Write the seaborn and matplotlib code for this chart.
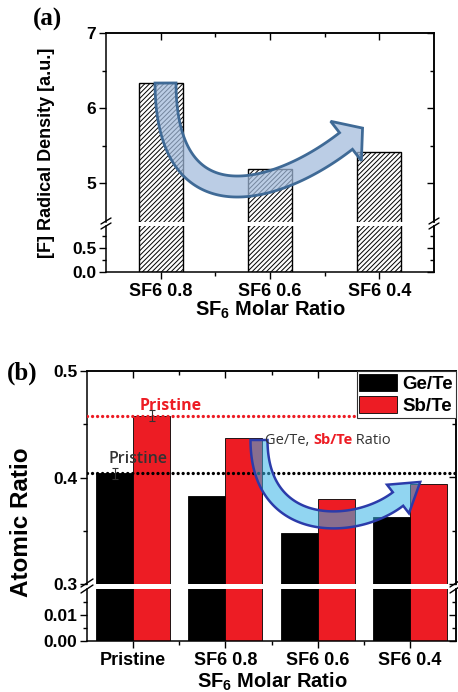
import numpy as np
import pandas as pd
import matplotlib
matplotlib.use("Agg")
import matplotlib.pyplot as plt
import matplotlib.transforms as mtransforms
from matplotlib.path import Path
from matplotlib.patches import PathPatch, Patch
from matplotlib.lines import Line2D
from matplotlib.ticker import FormatStrFormatter
import seaborn as sns

# ---------------- data ----------------
cats_a = ["SF6 0.8", "SF6 0.6", "SF6 0.4"]
density_a = [6.33, 5.19, 5.41]

cats_b = ["Pristine", "SF6 0.8", "SF6 0.6", "SF6 0.4"]
series_b = ["Ge/Te", "Sb/Te"]
ge_te = [0.404, 0.383, 0.348, 0.363]
sb_te = [0.458, 0.437, 0.380, 0.394]
pristine_err = [0.005, 0.005]  # Ge/Te, Sb/Te

yt_a_up, yt_a_up_minor = [5, 6, 7], [5.5, 6.5]
yt_a_lo, yt_a_lo_minor = [0.0, 0.5], [0.25, 0.75]
yt_b_up, yt_b_up_minor = [0.3, 0.4, 0.5], [0.35, 0.45]
yt_b_lo, yt_b_lo_minor = [0.00, 0.01], [0.005, 0.015]

RED = "#ED1C24"
ANN_FONT = ["Open Sans", "Noto Sans", "DejaVu Sans"]

sns.set_theme(style="white")
plt.rcParams["font.family"] = ["Liberation Sans", "DejaVu Sans"]
plt.rcParams["font.weight"] = "bold"
plt.rcParams["mathtext.fontset"] = "custom"
plt.rcParams["mathtext.rm"] = "Liberation Sans:bold"
plt.rcParams["mathtext.it"] = "Liberation Sans:bold"
plt.rcParams["mathtext.bf"] = "Liberation Sans:bold"
plt.rcParams["hatch.linewidth"] = 0.7
plt.rcParams["hatch.color"] = "black"
for k in ["axes.edgecolor", "xtick.color", "ytick.color", "text.color", "axes.labelcolor"]:
    plt.rcParams[k] = "black"

W, H = 458, 692
fig = plt.figure(figsize=(W / 100, H / 100), dpi=100)
PX = mtransforms.Affine2D().scale(1 / W, -1 / H).translate(0, 1) + fig.transFigure


def rect(l, r, t, b):
    return [l / W, 1 - b / H, (r - l) / W, (b - t) / H]


def style(ax, part, ymaj, ymin, yfmt, n, ysize, xsize, xlabels=None):
    for s in ax.spines.values():
        s.set_linewidth(1.1)
        s.set_color("black")
    ax.set_xlim(-0.5, n - 0.5)
    ax.set_xlabel("")
    ax.set_ylabel("")
    ax.set_yticks(ymaj)
    ax.set_yticks(ymin, minor=True)
    ax.yaxis.set_major_formatter(FormatStrFormatter(yfmt))
    ax.tick_params(axis="y", which="both", direction="out", left=True, right=False,
                   labelsize=ysize, width=1.0, pad=2)
    ax.tick_params(axis="y", which="major", length=5)
    ax.tick_params(axis="y", which="minor", length=3)
    for lab in ax.get_yticklabels():
        lab.set_fontweight("bold")
    sec = ax.secondary_yaxis("right")
    sec.set_yticks(ymaj)
    sec.set_yticks(ymin, minor=True)
    sec.tick_params(axis="y", which="both", direction="in", labelright=False, width=1.0)
    sec.tick_params(axis="y", which="major", length=5)
    sec.tick_params(axis="y", which="minor", length=3)
    sec.spines["right"].set_linewidth(1.1)
    xmaj = list(range(n))
    xmin = [i + 0.5 for i in range(n - 1)]
    if part == "upper":
        ax.spines["bottom"].set_visible(False)
        ax.tick_params(axis="x", which="both", bottom=False, labelbottom=False)
        secx = ax.secondary_xaxis("top")
        secx.set_xticks(xmaj)
        secx.set_xticks(xmin, minor=True)
        secx.tick_params(axis="x", which="both", direction="in", labeltop=False, width=1.0)
        secx.tick_params(axis="x", which="major", length=5)
        secx.tick_params(axis="x", which="minor", length=3)
        secx.spines["top"].set_linewidth(1.1)
    else:
        ax.spines["top"].set_visible(False)
        ax.set_xticks(xmaj, labels=xlabels, fontweight="bold")
        ax.set_xticks(xmin, minor=True)
        ax.tick_params(axis="x", which="both", direction="out", bottom=True, top=False,
                       labelsize=xsize, width=1.0, pad=3)
        ax.tick_params(axis="x", which="major", length=5)
        ax.tick_params(axis="x", which="minor", length=3)


def breaks(x, y1, y2, dx, dy):
    for yy in (y1, y2):
        fig.add_artist(Line2D([x - dx, x + dx], [yy + dy, yy - dy], transform=PX,
                              color="black", lw=1.0, zorder=12))


def curved_arrow(P, width, head_half, head_len):
    P0, P1, P2, P3 = [np.array(p, float) for p in P]
    t = np.linspace(0, 1, 100)[:, None]
    pts = (1 - t) ** 3 * P0 + 3 * (1 - t) ** 2 * t * P1 + 3 * (1 - t) * t ** 2 * P2 + t ** 3 * P3
    der = 3 * (1 - t) ** 2 * (P1 - P0) + 6 * (1 - t) * t * (P2 - P1) + 3 * t ** 2 * (P3 - P2)
    tang = der / np.linalg.norm(der, axis=1)[:, None]
    nrm = np.column_stack([-tang[:, 1], tang[:, 0]])
    left = pts + nrm * width / 2
    right = pts - nrm * width / 2
    end, d, nn = pts[-1], tang[-1], nrm[-1]
    head = np.array([end + nn * head_half, end + d * head_len, end - nn * head_half])
    verts = np.vstack([left, head, right[::-1], left[:1]])
    codes = [Path.MOVETO] + [Path.LINETO] * (len(verts) - 2) + [Path.CLOSEPOLY]
    return Path(verts, codes)


# ---------------- panel (a) ----------------
ax_a_up = fig.add_axes(rect(106, 434, 33, 222))
ax_a_lo = fig.add_axes(rect(106, 434, 226, 272))
df_a = pd.DataFrame({"cat": cats_a, "val": density_a})
for ax in (ax_a_up, ax_a_lo):
    sns.barplot(data=df_a, x="cat", y="val", ax=ax, color="white", saturation=1,
                width=0.4, edgecolor="black", linewidth=1.0, hatch="///////", errorbar=None)
ax_a_up.set_ylim(4.48, 7)
ax_a_lo.set_ylim(0, 0.96)
style(ax_a_up, "upper", yt_a_up, yt_a_up_minor, "%d", len(cats_a), 12.5, 13)
style(ax_a_lo, "lower", yt_a_lo, yt_a_lo_minor, "%.1f", len(cats_a), 12.5, 13, cats_a)
breaks(106, 221, 226, 5, 3)
breaks(434, 221, 226, 5, 3)

fig.text(48, 19, "(a)", transform=PX, ha="center", va="center", fontsize=18,
         fontweight="bold", family=["Liberation Serif", "DejaVu Serif"])
fig.text(47, 153, "[F] Radical Density [a.u.]", transform=PX, rotation=90,
         ha="center", va="center", fontsize=13, fontweight="bold")
fig.text(270, 316, "SF$_{6}$ Molar Ratio", transform=PX, ha="center", va="baseline",
         fontsize=14.5, fontweight="bold")

arr_a = curved_arrow([(165.5, 83), (166, 228), (278, 194), (346, 141)], 21, 25, 21)
fig.add_artist(PathPatch(arr_a, transform=PX, facecolor=(0.63, 0.73, 0.86, 0.72),
                         edgecolor="#3F6A96", lw=2.0, zorder=10))

# ---------------- panel (b) ----------------
ax_b_up = fig.add_axes(rect(87, 456, 371, 584))
ax_b_lo = fig.add_axes(rect(87, 456, 589, 641))
df_b = pd.DataFrame({
    "cat": cats_b * 2,
    "series": [series_b[0]] * len(cats_b) + [series_b[1]] * len(cats_b),
    "val": ge_te + sb_te,
})
pal = {series_b[0]: "black", series_b[1]: RED}
for ax in (ax_b_up, ax_b_lo):
    sns.barplot(data=df_b, x="cat", y="val", hue="series", hue_order=series_b,
                order=cats_b, palette=pal, saturation=1, width=0.8, edgecolor="black",
                linewidth=0.6, errorbar=None, legend=False, ax=ax)
ax_b_up.set_ylim(0.3, 0.5)
ax_b_lo.set_ylim(0, 0.02)
style(ax_b_up, "upper", yt_b_up, yt_b_up_minor, "%.1f", len(cats_b), 12.5, 13)
style(ax_b_lo, "lower", yt_b_lo, yt_b_lo_minor, "%.2f", len(cats_b), 12.5, 13, cats_b)
breaks(87, 583, 589, 6, 4)
breaks(456, 583, 589, 6, 4)

# error bars on the pristine bars
n_b = len(cats_b)
for k, err in enumerate(pristine_err):
    p = ax_b_up.patches[k * n_b]
    xc = p.get_x() + p.get_width() / 2
    ax_b_up.errorbar(xc, p.get_height(), yerr=err, fmt="none", ecolor="#333333",
                     elinewidth=0.8, capsize=2.5, capthick=0.8, zorder=5)

# pristine reference lines
ax_b_up.axhline(sb_te[0], color=RED, lw=2.4, linestyle=(0, (0.01, 1.5)),
                dash_capstyle="round", zorder=4)
ax_b_up.axhline(ge_te[0], color="black", lw=2.4, linestyle=(0, (0.01, 1.5)),
                dash_capstyle="round", zorder=4)

handles = [Patch(facecolor=pal[s], edgecolor="black", lw=0.6) for s in series_b]
leg = ax_b_up.legend(handles, series_b, loc="upper right", borderaxespad=0, fancybox=False,
                     framealpha=1, edgecolor="#333333", prop=dict(weight="bold", size=13.5),
                     handlelength=2.0, handleheight=1.0, labelspacing=0.2, borderpad=0.15,
                     handletextpad=0.3)
leg.get_frame().set_linewidth(0.8)
leg.set_zorder(20)

fig.text(22, 373, "(b)", transform=PX, ha="center", va="center", fontsize=18,
         fontweight="bold", family=["Liberation Serif", "DejaVu Serif"])
fig.text(22, 522, "Atomic Ratio", transform=PX, rotation=90, ha="center", va="center",
         fontsize=17.5, fontweight="bold")
fig.text(272, 688, "SF$_{6}$ Molar Ratio", transform=PX, ha="center", va="baseline",
         fontsize=14.5, fontweight="bold")

fig.text(140, 406, "Pristine", transform=PX, ha="left", va="center", fontsize=11.5,
         fontweight="bold", color=RED, family=ANN_FONT, zorder=11)
fig.text(108, 459, "Pristine", transform=PX, ha="left", va="center", fontsize=11.5,
         fontweight="semibold", color="#333333", family=ANN_FONT, zorder=11)

arr_b = curved_arrow([(259, 440), (259, 535), (355, 532), (398, 499)], 17, 18, 28)
fig.add_artist(PathPatch(arr_b, transform=PX, facecolor=(0.22, 0.70, 0.90, 0.55),
                         edgecolor="#2B3BAA", lw=1.8, zorder=10))

# multi-coloured annotation text
fig.canvas.draw()
renderer = fig.canvas.get_renderer()
x0, yb = 265, 443.5
pieces = [("Ge/Te, ", "normal", "#333333"), ("Sb/Te", "bold", RED), (" Ratio", "normal", "#333333")]
for txt, wt, col in pieces:
    t = fig.text(x0, yb, txt, transform=PX, ha="left", va="baseline", fontsize=10.5,
                 fontweight=wt, color=col, family=ANN_FONT, zorder=11)
    x0 += t.get_window_extent(renderer).width

fig.savefig("out.png", dpi=100)
